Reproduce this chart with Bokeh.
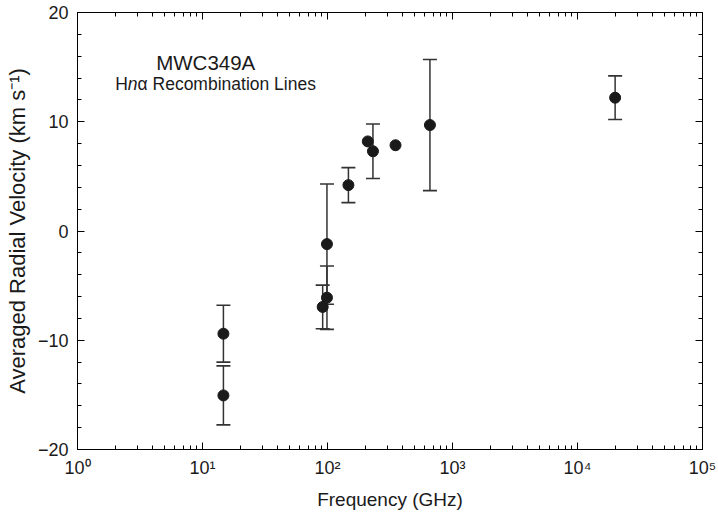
from bokeh.plotting import figure
from bokeh.models import (ColumnDataSource, Whisker, TeeHead, Label, LogAxis,
                          LinearAxis, SingleIntervalTicker, LogTicker,
                          CustomJSTickFormatter)
from bokeh.embed import file_html
from bokeh.resources import INLINE

# ---- data ----
freq_ghz = [14.7, 14.7, 91.5, 99, 99, 147, 210, 231, 350, 660, 20000]
velocity = [-9.4, -15.05, -6.95, -6.1, -1.2, 4.2, 8.2, 7.3, 7.85, 9.7, 12.2]
vel_err = [2.6, 2.7, 2.0, 2.9, 5.5, 1.6, 0.0, 2.5, 0.0, 6.0, 2.0]

x_ticks = [1, 10, 100, 1000, 10000, 100000]
x_tick_labels = ["10\u2070", "10\u00b9", "10\u00b2", "10\u00b3", "10\u2074", "10\u2075"]
y_ticks = [-20, -10, 0, 10, 20]
y_tick_labels = ["\u221220", "\u221210", "0", "10", "20"]

FONT = "Liberation Sans"
INK = "#1a1a1a"

p = figure(width=716, height=514, x_axis_type="log", x_range=(1, 1e5),
           y_range=(-20, 20), output_backend="svg", toolbar_location=None,
           min_border_left=77, min_border_right=14, min_border_top=12,
           min_border_bottom=65)
p.background_fill_color = "white"
p.border_fill_color = "white"
p.outline_line_color = "black"
p.grid.visible = False

# error bars (only where an error exists)
ex = [f for f, e in zip(freq_ghz, vel_err) if e > 0]
eu = [v + e for v, e in zip(velocity, vel_err) if e > 0]
el = [v - e for v, e in zip(velocity, vel_err) if e > 0]
esrc = ColumnDataSource(dict(x=ex, upper=eu, lower=el))
wh = Whisker(base="x", upper="upper", lower="lower", source=esrc,
             dimension="height", line_color="#333333", line_width=1.5,
             upper_head=TeeHead(size=14, line_color="#333333", line_width=1.6),
             lower_head=TeeHead(size=14, line_color="#333333", line_width=1.6))
p.add_layout(wh)

src = ColumnDataSource(dict(x=freq_ghz, y=velocity))
p.scatter("x", "y", source=src, size=11, marker="circle",
          fill_color=INK, line_color=INK)

def style_axis(ax, show_labels=True):
    ax.axis_line_color = "black"
    ax.axis_line_width = 1
    ax.major_tick_line_color = "black"
    ax.minor_tick_line_color = "black"
    ax.major_tick_in = 7
    ax.major_tick_out = 0
    ax.minor_tick_in = 4
    ax.minor_tick_out = 0
    ax.major_label_text_font = FONT
    ax.major_label_text_color = INK
    ax.axis_label_text_font = FONT
    ax.axis_label_text_color = INK
    ax.axis_label_text_font_style = "normal"
    ax.major_label_text_font_size = "18px"
    if not show_labels:
        ax.formatter = CustomJSTickFormatter(code="return ' ';")
        ax.major_label_text_font_size = "1px"
        ax.major_label_text_alpha = 0
        ax.major_label_standoff = 0

# bottom axis
xa = p.xaxis[0]
xa.ticker = LogTicker(num_minor_ticks=10, desired_num_ticks=6)
xa.major_label_overrides = {t: s for t, s in zip(x_ticks, x_tick_labels)}
xa.axis_label = "Frequency (GHz)"
style_axis(xa)
xa.axis_label_text_font_size = "19px"
xa.major_label_standoff = 8
xa.axis_label_standoff = 8

# left axis
ya = p.yaxis[0]
ya.ticker = SingleIntervalTicker(interval=10, num_minor_ticks=5)
ya.major_label_overrides = {t: s for t, s in zip(y_ticks, y_tick_labels)}
ya.axis_label = "Averaged Radial Velocity (km s\u207b\u00b9)"
style_axis(ya)
ya.axis_label_text_font_size = "22px"
ya.major_label_standoff = 9
ya.axis_label_standoff = 5

# mirrored axes (ticks only)
top = LogAxis(ticker=LogTicker(num_minor_ticks=10, desired_num_ticks=6))
style_axis(top, show_labels=False)
p.add_layout(top, "above")
right = LinearAxis(ticker=SingleIntervalTicker(interval=10, num_minor_ticks=5))
style_axis(right, show_labels=False)
p.add_layout(right, "right")

# annotations
p.add_layout(Label(x=4.26, y=15.4, text="MWC349A", text_font=FONT,
                   text_font_size="20.5px", text_color=INK,
                   text_baseline="middle", text_align="left"))
p.add_layout(Label(x=2.0, y=13.45, text="H", text_font=FONT,
                   text_font_size="17.5px", text_color=INK,
                   text_baseline="middle", text_align="left"))
p.add_layout(Label(x=2.0, y=13.45, x_offset=12.6, text="n", text_font=FONT,
                   text_font_size="17.5px", text_color=INK,
                   text_font_style="italic",
                   text_baseline="middle", text_align="left"))
p.add_layout(Label(x=2.0, y=13.45, x_offset=22.4,
                   text="\u03b1 Recombination Lines", text_font=FONT,
                   text_font_size="17.5px", text_color=INK,
                   text_baseline="middle", text_align="left"))

open("out.html", "w").write(file_html(p, INLINE))
